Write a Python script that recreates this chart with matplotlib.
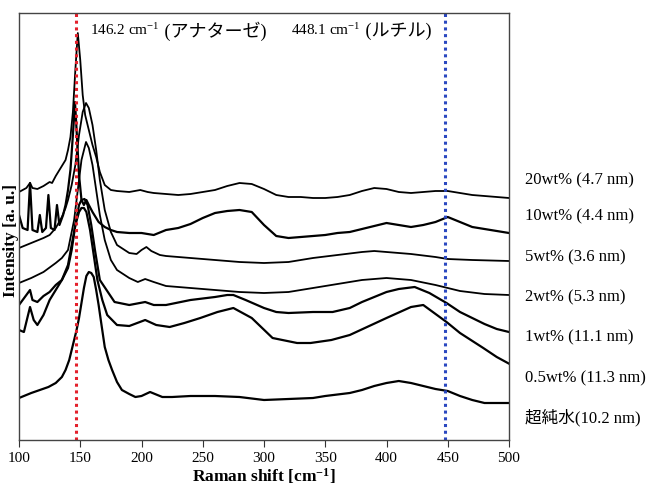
import matplotlib
matplotlib.use("Agg")
import matplotlib.pyplot as plt

plt.rcParams['font.family'] = ['Liberation Serif', 'Noto Sans CJK JP']
plt.rcParams['mathtext.fontset'] = 'custom'
plt.rcParams['mathtext.rm'] = 'Liberation Serif'
plt.rcParams['mathtext.bf'] = 'Liberation Serif:bold'
plt.rcParams['mathtext.default'] = 'regular'

labels = ['20wt% (4.7 nm)', '10wt% (4.4 nm)', '5wt% (3.6 nm)', '2wt% (5.3 nm)',
          '1wt% (11.1 nm)', '0.5wt% (11.3 nm)', '超純水(10.2 nm)']
label_y = [260, 224, 183, 143, 103, 62, 22]

x_20 = [100,103,106,109,111,115,120,125,127,130,135,138,140,142,144,146,148,150,152,154,
        156,158,160,163,166,170,175,180,190,199,205,210,220,230,240,250,260,270,280,290,
        300,310,320,330,340,350,360,370,380,390,400,410,420,430,440,450,460,470,480,490,500]
y_20 = [248,250,252,257,252,251,254,258,257,264,274,280,290,303,328,370,407,380,345,325,
        315,305,295,283,268,255,250,249,248,250,248,247,246,245,246,248,250,254,257,256,
        251,245,243,243,242,242,243,245,249,252,251,248,247,248,249,249,247,245,244,243,242]

x_10 = [100,103,107,109,111,115,117,119,122,124,126,129,131,133,136,138,140,142,144,145.7,
        147,149,151,153,155,157,160,165,170,175,180,190,200,210,220,230,240,250,260,270,
        280,290,300,310,320,330,340,350,360,370,380,390,400,410,420,430,440,450,460,470,
        480,490,500]
y_10 = [225,212,210,257,210,208,225,208,212,245,212,210,235,215,225,235,250,270,305,338,
        310,265,240,235,240,235,228,218,213,210,208,207,207,205,210,212,216,222,227,229,
        230,228,215,204,202,203,204,205,207,208,211,214,217,215,213,215,218,223,218,213,
        211,209,207]

x_5 = [100,110,120,125,130,135,138,140,143,146,149,152,154.7,157,160,163,166,170,175,180,
       190,196,200,204,208,215,220,240,260,280,300,320,340,360,380,390,400,420,440,450,470,500]
y_5 = [192,197,202,205,212,223,232,240,255,275,305,328,337,332,315,290,260,230,208,195,
       187,186,190,193,189,185,184,182,180,178,177,178,182,185,188,189,188,186,183,181,180,179]

x_2 = [100,110,120,130,135,140,145,148,151,154.7,157,160,163,166,170,175,180,190,197,203,
       210,220,240,260,280,300,320,340,360,380,400,420,440,450,460,480,500]
y_2 = [157,162,168,177,182,190,220,250,280,298,292,275,250,225,200,180,170,162,158,161,
       158,154,152,150,148,147,148,152,156,160,162,160,155,152,149,146,145]

x_1 = [100,103,109,111,115,120,125,130,135,140,143,146,149,151,153.5,156,159,162,166,178,
       190,203,210,220,240,260,270,275,285,300,310,320,340,356,370,380,390,400,410,423,
       435,449,460,470,480,490,500]
y_1 = [135,140,150,140,138,144,148,155,160,172,190,215,235,240,241,235,215,190,160,138,
       135,138,135,135,140,143,145,145,140,132,128,127,128,128,132,138,143,148,151,153,
       147,137,128,122,116,111,108]

x_05 = [100,104,109,112,115,120,125,130,135,140,143,146,149,151,153,155,158,161,164,168,
        172,180,190,203,212,223,235,248,262,275,290,307,327,338,355,370,400,420,430,449,
        460,479,490,502]
y_05 = [110,108,133,120,115,125,140,150,160,175,195,215,228,232,232,228,210,185,160,140,
        125,115,114,120,115,113,117,122,128,132,122,102,97,97,100,105,122,133,135,118,
        107,92,83,75]

x_w = [100,110,124,130,135,138,141,143,145,147,149,151,153,155,157,159,161,163,165,167,
       170,173,176,180,184,190,195,200,207,217,225,240,260,280,300,320,340,350,370,380,
       390,400,410,420,430,440,450,460,470,480,500]
y_w = [42,47,53,57,63,70,80,90,100,110,122,137,152,164,168,167,163,150,135,118,
       93,80,70,58,50,46,43,44,48,43,43,44,44,43,40,41,42,44,47,50,
       54,57,59,57,54,51,49,44,40,37,37]

xs = [x_20, x_10, x_5, x_2, x_1, x_05, x_w]
ys = [y_20, y_10, y_5, y_2, y_1, y_05, y_w]
noisy = [False, True, False, False, True, True, True]

anatase = 146.2
rutile = 448.1

fig = plt.figure(figsize=(6.63, 4.95), dpi=100)
ax = fig.add_axes([19/663, 55/495, 490/663, 427/495])

for x, y, n in zip(xs, ys, noisy):
    ax.plot(x, y, color='black', lw=1.6 if n else 1.3)

ax.axvline(anatase, color='#e3202b', ls=(0, (1, 1.2)), lw=2.2)
ax.axvline(rutile, color='#2a48c0', ls=(0, (1, 1.2)), lw=2.2)

ax.set_xlim(100, 500)
ax.set_ylim(0, 427)
ax.set_yticks([])
ax.set_xticks(range(100, 501, 50))
ax.tick_params(axis='x', direction='out', length=5, labelsize=11, color='#333333')
for s in ax.spines.values():
    s.set_color('#444444')
    s.set_linewidth(1.0)

for lab, yy in zip(labels, label_y):
    ax.text(513, yy, lab, fontsize=12, va='center', ha='left', clip_on=False)

t1 = ax.text(158, 410, '146.2 cm$^{-1}$', fontsize=11, va='center')
ax.annotate(' (アナターゼ)', xy=(1, 0.42), xycoords=t1, va='center', fontsize=13)
t2 = ax.text(322, 410, '448.1 cm$^{-1}$', fontsize=11, va='center')
ax.annotate(' (ルチル)', xy=(1, 0.42), xycoords=t2, va='center', fontsize=13)

ax.set_xlabel('Raman shift [cm$^{\\mathbf{-1}}$]', fontsize=12.5, fontweight='bold', labelpad=1)
fig.text(0.016, 0.515, 'Intensity [a. u.]', rotation=90, fontsize=12.5, fontweight='bold',
         ha='center', va='center')

fig.savefig('out.png', dpi=100)
